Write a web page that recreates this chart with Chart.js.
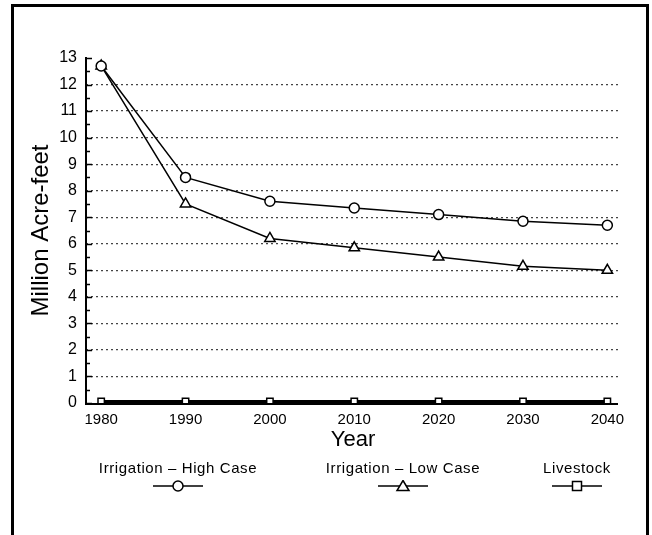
<!DOCTYPE html>
<html>
<head>
<meta charset="utf-8">
<script src="https://cdn.jsdelivr.net/npm/chart.js@4"></script>
<style>
  html, body { margin: 0; padding: 0; background: #fff; }
  body { width: 652px; height: 535px; position: relative; overflow: hidden; font-family: "Liberation Sans", Arial, sans-serif; }
  #frame { position: absolute; left: 11px; top: 4px; width: 638px; height: 600px; border: 3px solid #000; box-sizing: border-box; }
  #wrap { position: absolute; left: 0; top: 0; width: 652px; height: 535px; }
  .leg { position: absolute; top: 459px; font-size: 15px; letter-spacing: 0.6px; color: #000; white-space: nowrap; transform: translateX(-50%); }
  .mark { position: absolute; top: 478px; transform: translateX(-50%); }
</style>
</head>
<body>
<div id="wrap"><canvas id="myChart" width="652" height="535"></canvas></div>
<div id="frame"></div>
<div id="legend"></div>
<script>
// years on the x axis
const years = [1980, 1990, 2000, 2010, 2020, 2030, 2040];
// million acre-feet
const highCase = [12.7, 8.5, 7.6, 7.35, 7.1, 6.85, 6.7];
const lowCase = [12.7, 7.5, 6.2, 5.85, 5.5, 5.15, 5.0];
const livestock = [0.06, 0.06, 0.06, 0.06, 0.06, 0.06, 0.06];
const seriesNames = ["Irrigation \u2013 High Case", "Irrigation \u2013 Low Case", "Livestock"];
const yTicks = [0, 1, 2, 3, 4, 5, 6, 7, 8, 9, 10, 11, 12, 13];

function toPoints(values) {
  return values.map((v, i) => ({ x: years[i], y: v }));
}

const font = { family: "'Liberation Sans', Arial, sans-serif" };

// solid axis lines + small inward ticks on the y axis (every half unit)
const axisExtras = {
  id: "axisExtras",
  afterDraw(chart) {
    const y = chart.scales.y;
    const x = chart.scales.x;
    const ctx = chart.ctx;
    ctx.save();
    ctx.setLineDash([]);
    ctx.strokeStyle = "#000";
    ctx.lineWidth = 2;
    ctx.beginPath();
    ctx.moveTo(y.right, y.top - 1);
    ctx.lineTo(y.right, y.bottom + 1);
    ctx.lineTo(x.right - 2, y.bottom + 1);
    ctx.stroke();
    ctx.lineWidth = 1.5;
    for (let v = 0; v <= 13; v += 0.5) {
      const py = Math.round(y.getPixelForValue(v)) + 0.5;
      const len = Number.isInteger(v) ? 6 : 4;
      ctx.beginPath();
      ctx.moveTo(y.right, py);
      ctx.lineTo(y.right + len, py);
      ctx.stroke();
    }
    ctx.restore();
  }
};

const ctx = document.getElementById("myChart").getContext("2d");

const chart = new Chart(ctx, {
  type: "line",
  data: {
    datasets: [
      {
        label: seriesNames[0],
        data: toPoints(highCase),
        borderColor: "#000",
        borderWidth: 1.5,
        pointStyle: "circle",
        pointRadius: 5,
        pointBorderWidth: 1.5,
        pointBackgroundColor: "#fff",
        pointBorderColor: "#000"
      },
      {
        label: seriesNames[1],
        data: toPoints(lowCase),
        borderColor: "#000",
        borderWidth: 1.5,
        pointStyle: "triangle",
        pointRadius: 6,
        pointBorderWidth: 1.5,
        pointBackgroundColor: "#fff",
        pointBorderColor: "#000"
      },
      {
        label: seriesNames[2],
        data: toPoints(livestock),
        borderColor: "#000",
        borderWidth: 3,
        pointStyle: "rect",
        pointRadius: 4.5,
        pointBorderWidth: 1.5,
        pointBackgroundColor: "#fff",
        pointBorderColor: "#000"
      }
    ]
  },
  options: {
    responsive: false,
    animation: false,
    layout: { padding: { left: 0, top: 58, right: 32, bottom: 82 } },
    plugins: { legend: { display: false }, tooltip: { enabled: false } },
    scales: {
      x: {
        type: "linear",
        min: 1978.2,
        max: 2041.5,
        afterBuildTicks: s => { s.ticks = years.map(v => ({ value: v })); },
        afterFit: s => { s.height = 50; },
        grid: { display: false, drawTicks: false },
        border: { display: false },
        ticks: { color: "#000", padding: 8, font: { ...font, size: 15 }, callback: v => String(v) },
        title: { display: true, text: "Year", color: "#000", font: { ...font, size: 22 }, padding: { top: 0, bottom: 0 } }
      },
      y: {
        min: 0,
        max: 13,
        afterBuildTicks: s => { s.ticks = yTicks.map(v => ({ value: v })); },
        afterFit: s => { s.width = 86; },
        grid: {
          drawTicks: false,
          color: c => (c.tick && (c.tick.value === 0 || c.tick.value === 13)) ? "rgba(0,0,0,0)" : "#444",
          lineWidth: 1.2
        },
        // in v4 the dash here is applied to the grid lines
        border: { display: false, dash: [2, 3] },
        ticks: { color: "#000", padding: 9, font: { ...font, size: 16 } },
        title: { display: true, text: "Million Acre-feet", color: "#000", font: { ...font, size: 24 }, padding: { top: 27, bottom: 0 } }
      }
    }
  },
  plugins: [axisExtras]
});

// legend under the chart: name on top, line sample with marker below
const legendX = [178, 403, 577];
const markers = [
  '<circle cx="25" cy="6" r="5" fill="#fff" stroke="#000" stroke-width="1.5"/>',
  '<path d="M25 0.5 L31 10.5 L19 10.5 Z" fill="#fff" stroke="#000" stroke-width="1.5"/>',
  '<rect x="20.5" y="1.5" width="9" height="9" fill="#fff" stroke="#000" stroke-width="1.5"/>'
];
const legend = document.getElementById("legend");
seriesNames.forEach((name, i) => {
  const t = document.createElement("div");
  t.className = "leg";
  t.style.left = legendX[i] + "px";
  t.textContent = name;
  legend.appendChild(t);
  const m = document.createElement("div");
  m.className = "mark";
  m.style.left = legendX[i] + "px";
  m.innerHTML = '<svg width="50" height="12"><line x1="0" y1="6" x2="50" y2="6" stroke="#000" stroke-width="1.5"/>' + markers[i] + '</svg>';
  legend.appendChild(m);
});
</script>
</body>
</html>
